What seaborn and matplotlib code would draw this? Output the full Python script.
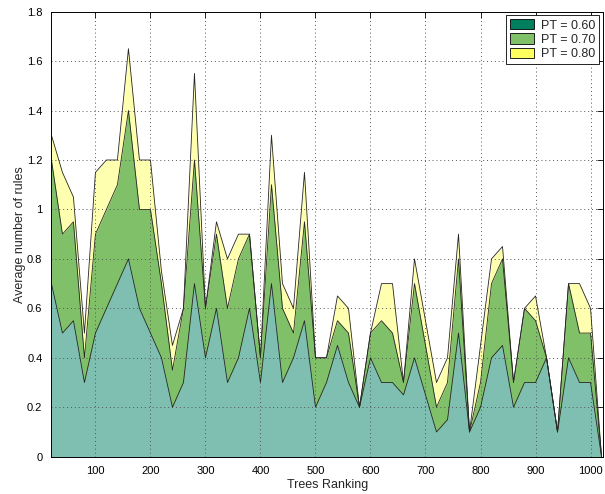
import numpy as np
import pandas as pd
import matplotlib
matplotlib.use('Agg')
import matplotlib.pyplot as plt
from matplotlib.patches import Patch
from matplotlib.ticker import FormatStrFormatter, MultipleLocator
import seaborn as sns

# ----------------------------------------------------------------------------
# DATA
# ----------------------------------------------------------------------------
trees = list(range(20, 1021, 20))

pt_060 = [0.7, 0.5, 0.55, 0.3, 0.5, 0.6, 0.7, 0.8, 0.6, 0.5,
          0.4, 0.2, 0.3, 0.7, 0.4, 0.6, 0.3, 0.4, 0.6, 0.3,
          0.7, 0.3, 0.4, 0.55, 0.2, 0.3, 0.45, 0.3, 0.2, 0.4,
          0.3, 0.3, 0.25, 0.4, 0.25, 0.1, 0.15, 0.5, 0.1, 0.2,
          0.4, 0.45, 0.2, 0.3, 0.3, 0.4, 0.1, 0.4, 0.3, 0.3, 0.0]

pt_070 = [1.2, 0.9, 0.95, 0.4, 0.9, 1.0, 1.1, 1.4, 1.0, 1.0,
          0.7, 0.35, 0.6, 1.2, 0.6, 0.9, 0.6, 0.8, 0.9, 0.4,
          1.1, 0.6, 0.5, 0.95, 0.4, 0.4, 0.55, 0.5, 0.2, 0.5,
          0.55, 0.5, 0.3, 0.7, 0.45, 0.2, 0.3, 0.8, 0.1, 0.3,
          0.7, 0.8, 0.3, 0.6, 0.55, 0.4, 0.1, 0.7, 0.5, 0.5, 0.0]

pt_080 = [1.3, 1.15, 1.05, 0.5, 1.15, 1.2, 1.2, 1.65, 1.2, 1.2,
          0.75, 0.45, 0.6, 1.55, 0.6, 0.95, 0.8, 0.9, 0.9, 0.4,
          1.3, 0.7, 0.6, 1.15, 0.4, 0.4, 0.65, 0.6, 0.2, 0.5,
          0.7, 0.7, 0.3, 0.8, 0.55, 0.3, 0.4, 0.9, 0.1, 0.45,
          0.8, 0.85, 0.3, 0.6, 0.65, 0.4, 0.1, 0.7, 0.7, 0.6, 0.0]

series_labels = ['PT = 0.60', 'PT = 0.70', 'PT = 0.80']

df = pd.DataFrame({'tree': trees, 'PT = 0.60': pt_060,
                   'PT = 0.70': pt_070, 'PT = 0.80': pt_080})
df_long = df.melt(id_vars='tree', var_name='threshold', value_name='rules')

# ----------------------------------------------------------------------------
# STYLE
# ----------------------------------------------------------------------------
sns.set_style('white')
plt.rcParams['font.family'] = ['Liberation Sans', 'DejaVu Sans']

fill_colors = {'PT = 0.60': '#7fbfb2', 'PT = 0.70': '#80c068', 'PT = 0.80': '#ffffb0'}
legend_colors = {'PT = 0.60': '#007f5f', 'PT = 0.70': '#80c068', 'PT = 0.80': '#ffff60'}

fig = plt.figure(figsize=(6.05, 4.94), dpi=100)
ax = fig.add_axes([0.085, 0.0755, 0.912, 0.901])

# Draw largest series first so the smaller ones sit on top
for label in reversed(series_labels):
    ax.fill_between(df['tree'], 0, df[label], color=fill_colors[label],
                    linewidth=0, zorder=2)
    sns.lineplot(data=df_long[df_long['threshold'] == label], x='tree', y='rules',
                 color='#262626', linewidth=0.6, ax=ax, legend=False, zorder=3)

ax.set_xlim(20, 1023)
ax.set_ylim(0, 1.8)
ax.yaxis.set_major_locator(MultipleLocator(0.2))
ax.yaxis.set_major_formatter(FormatStrFormatter('%g'))
ax.set_xticks(range(100, 1001, 100))

ax.grid(True, linestyle=(0, (1, 3)), color='#555555', linewidth=0.7, zorder=4)
ax.set_axisbelow(False)
ax.tick_params(direction='in', top=True, right=True, length=4, width=0.6,
               labelsize=8, colors='black', pad=6.5)
for sp in ax.spines.values():
    sp.set_color('black')
    sp.set_linewidth(0.7)
    sp.set_zorder(5)

ax.set_xlabel('Trees Ranking', fontsize=9, labelpad=2)
ax.set_ylabel('Average number of rules', fontsize=9, labelpad=0.5)

handles = [Patch(facecolor=legend_colors[l], edgecolor='black', linewidth=0.6, label=l)
           for l in series_labels]
leg = ax.legend(handles=handles, loc='upper right', fontsize=9, fancybox=False,
                framealpha=1, edgecolor='black', borderaxespad=0.3,
                handlelength=1.9, handleheight=0.9, labelspacing=0.15,
                borderpad=0.3, handletextpad=0.6)
leg.get_frame().set_linewidth(0.6)
leg.set_zorder(10)

plt.savefig('out.png', dpi=100)
